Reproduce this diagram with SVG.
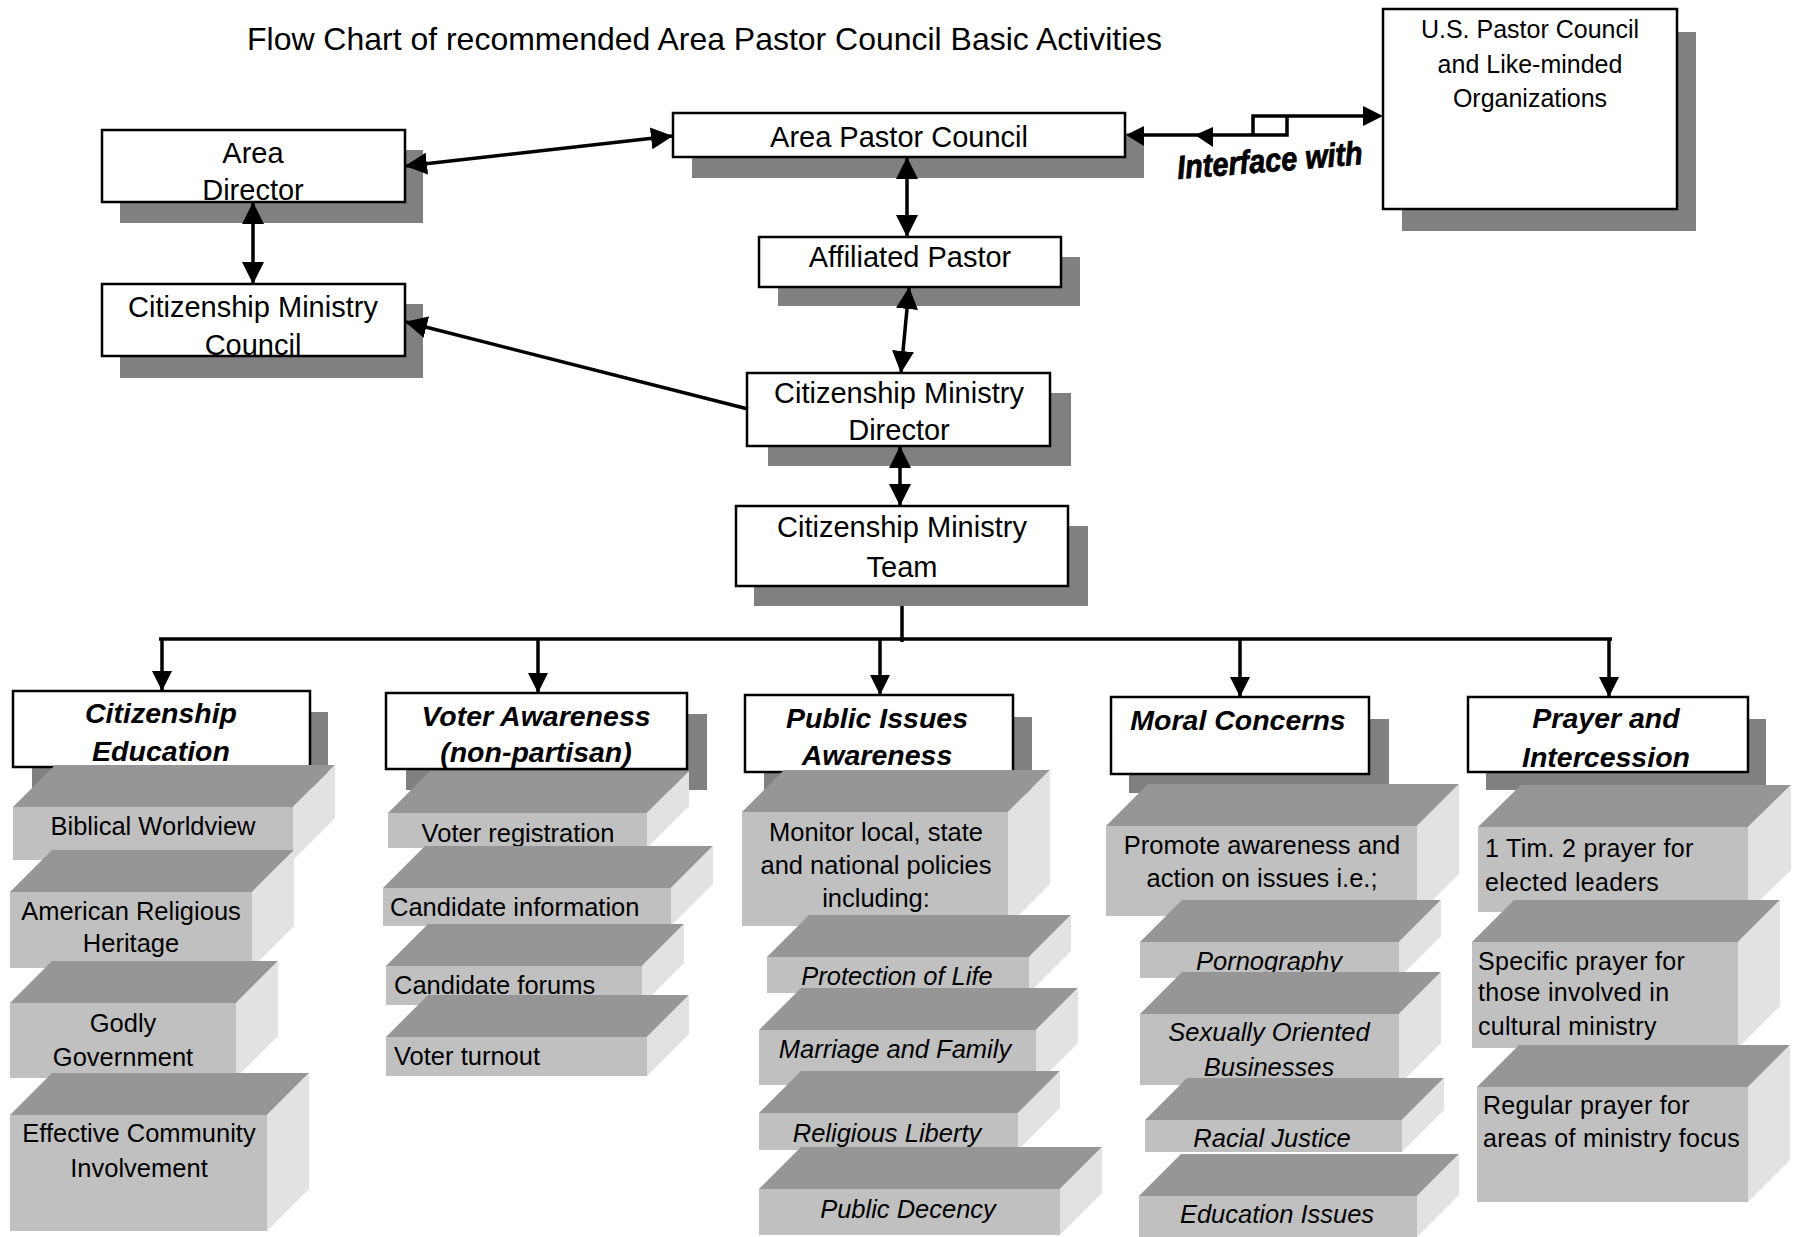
<svg xmlns="http://www.w3.org/2000/svg" width="1794" height="1237" viewBox="0 0 1794 1237">
<style>
text{font-family:"Liberation Sans",Arial,sans-serif;fill:#000}
.t{font-size:29px;text-anchor:middle}
.cat{font-size:28.5px;font-weight:bold;font-style:italic;text-anchor:middle}
.b{font-size:25.5px;text-anchor:middle}
.bs{font-size:25.5px;text-anchor:start}
.bi{font-size:25.5px;font-style:italic;text-anchor:middle}
.bl{font-size:25px;letter-spacing:0.3px}
.us{font-size:25px;text-anchor:middle}
.box{fill:#fff;stroke:#000;stroke-width:2.5}
.sh{fill:#808080}
.top{fill:#969696}
.front{fill:#c0c0c0}
.side{fill:#e2e2e2}
.ln{fill:none;stroke:#000;stroke-width:3.5}
</style>
<defs>
<marker id="ae" viewBox="0 0 22 22" refX="21" refY="11" markerWidth="22" markerHeight="22" orient="auto" markerUnits="userSpaceOnUse"><path d="M0,0 L22,11 L0,22 z"/></marker>
<marker id="as" viewBox="0 0 22 22" refX="1" refY="11" markerWidth="22" markerHeight="22" orient="auto" markerUnits="userSpaceOnUse"><path d="M22,0 L0,11 L22,22 z"/></marker>
<marker id="de" viewBox="0 0 20 20" refX="19" refY="10" markerWidth="20" markerHeight="20" orient="auto" markerUnits="userSpaceOnUse"><path d="M0,0 L20,10 L0,20 z"/></marker>
</defs>
<rect width="1794" height="1237" fill="#fff"/>
<text x="247" y="50" font-size="32" textLength="915" lengthAdjust="spacingAndGlyphs">Flow Chart of recommended Area Pastor Council Basic Activities</text>

<g id="us-pastor-council">
<rect class="sh" x="1402" y="32" width="294" height="199"/>
<rect class="box" x="1383" y="9" width="294" height="200"/>
<text class="us" x="1530" y="38">U.S. Pastor Council</text>
<text class="us" x="1530" y="73">and Like-minded</text>
<text class="us" x="1530" y="107">Organizations</text>
</g>
<g id="area-director">
<rect class="sh" x="120" y="150" width="303" height="73"/>
<rect class="box" x="102" y="130" width="303" height="72"/>
<text class="t" x="253" y="163">Area</text>
<text class="t" x="253" y="200">Director</text>
</g>
<g id="cm-council">
<rect class="sh" x="120" y="304" width="303" height="74"/>
<rect class="box" x="102" y="284" width="303" height="72"/>
<text class="t" x="253" y="317">Citizenship Ministry</text>
<text class="t" x="253" y="355">Council</text>
</g>
<g id="area-pastor-council">
<rect class="sh" x="692" y="133" width="452" height="45"/>
<rect class="box" x="673" y="113" width="452" height="44"/>
<text class="t" x="899" y="147">Area Pastor Council</text>
</g>
<g id="affiliated-pastor">
<rect class="sh" x="778" y="257" width="302" height="49"/>
<rect class="box" x="759" y="237" width="302" height="50"/>
<text class="t" x="910" y="267">Affiliated Pastor</text>
</g>
<g id="cm-director">
<rect class="sh" x="768" y="393" width="303" height="73"/>
<rect class="box" x="747" y="373" width="303" height="73"/>
<text class="t" x="899" y="403">Citizenship Ministry</text>
<text class="t" x="899" y="440">Director</text>
</g>
<g id="cm-team">
<rect class="sh" x="754" y="526" width="334" height="80"/>
<rect class="box" x="736" y="506" width="332" height="80"/>
<text class="t" x="902" y="537">Citizenship Ministry</text>
<text class="t" x="902" y="577">Team</text>
</g>

<g id="cat-citizenship-education">
<rect class="sh" x="32" y="712" width="296" height="76"/>
<rect class="box" x="13" y="691" width="297" height="76"/>
<text class="cat" x="161" y="723">Citizenship</text>
<text class="cat" x="161" y="761">Education</text>
</g>
<g id="cat-voter-awareness">
<rect class="sh" x="406" y="714" width="301" height="76"/>
<rect class="box" x="386" y="693" width="301" height="76"/>
<text class="cat" x="536" y="726">Voter Awareness</text>
<text class="cat" x="536" y="762">(non-partisan)</text>
</g>
<g id="cat-public-issues">
<rect class="sh" x="764" y="717" width="268" height="77"/>
<rect class="box" x="745" y="695" width="268" height="77"/>
<text class="cat" x="877" y="728">Public Issues</text>
<text class="cat" x="877" y="765">Awareness</text>
</g>
<g id="cat-moral-concerns">
<rect class="sh" x="1129" y="719" width="260" height="74"/>
<rect class="box" x="1111" y="697" width="258" height="77"/>
<text class="cat" x="1238" y="730">Moral Concerns</text>
</g>
<g id="cat-prayer">
<rect class="sh" x="1486" y="719" width="280" height="71"/>
<rect class="box" x="1468" y="697" width="280" height="75"/>
<text class="cat" x="1606" y="728">Prayer and</text>
<text class="cat" x="1606" y="767">Intercession</text>
</g>

<!-- Citizenship Education items -->
<g id="ce-1">
<polygon class="top" points="13,807 55,765 335,765 293,807"/>
<polygon class="side" points="293,807 335,765 335,818 293,860"/>
<rect class="front" x="13" y="807" width="280" height="53"/>
<text class="b" x="153" y="835">Biblical Worldview</text>
</g>
<g id="ce-2">
<polygon class="top" points="10,892 52,850 294,850 252,892"/>
<polygon class="side" points="252,892 294,850 294,926 252,968"/>
<rect class="front" x="10" y="892" width="242" height="76"/>
<text class="b" x="131" y="920">American Religious</text>
<text class="b" x="131" y="952">Heritage</text>
</g>
<g id="ce-3">
<polygon class="top" points="10,1003 52,961 278,961 236,1003"/>
<polygon class="side" points="236,1003 278,961 278,1036 236,1078"/>
<rect class="front" x="10" y="1003" width="226" height="75"/>
<text class="b" x="123" y="1032">Godly</text>
<text class="b" x="123" y="1066">Government</text>
</g>
<g id="ce-4">
<polygon class="top" points="10,1115 52,1073 309,1073 267,1115"/>
<polygon class="side" points="267,1115 309,1073 309,1189 267,1231"/>
<rect class="front" x="10" y="1115" width="257" height="116"/>
<text class="b" x="139" y="1142">Effective Community</text>
<text class="b" x="139" y="1177">Involvement</text>
</g>

<!-- Voter Awareness items -->
<g id="va-1">
<polygon class="top" points="388,813 430,771 689,771 647,813"/>
<polygon class="side" points="647,813 689,771 689,806 647,848"/>
<rect class="front" x="388" y="813" width="259" height="35"/>
<text class="b" x="518" y="842">Voter registration</text>
</g>
<g id="va-2">
<polygon class="top" points="383,888 425,846 713,846 671,888"/>
<polygon class="side" points="671,888 713,846 713,884 671,926"/>
<rect class="front" x="383" y="888" width="288" height="38"/>
<text class="bs" x="390" y="916">Candidate information</text>
</g>
<g id="va-3">
<polygon class="top" points="386,966 428,924 684,924 642,966"/>
<polygon class="side" points="642,966 684,924 684,963 642,1005"/>
<rect class="front" x="386" y="966" width="256" height="39"/>
<text class="bs" x="394" y="994">Candidate forums</text>
</g>
<g id="va-4">
<polygon class="top" points="386,1037 428,995 689,995 647,1037"/>
<polygon class="side" points="647,1037 689,995 689,1034 647,1076"/>
<rect class="front" x="386" y="1037" width="261" height="39"/>
<text class="bs" x="394" y="1065">Voter turnout</text>
</g>

<!-- Public Issues items -->
<g id="pi-1">
<polygon class="top" points="742,812 784,770 1050,770 1008,812"/>
<polygon class="side" points="1008,812 1050,770 1050,884 1008,926"/>
<rect class="front" x="742" y="812" width="266" height="114"/>
<text class="b" x="876" y="841">Monitor local, state</text>
<text class="b" x="876" y="874">and national policies</text>
<text class="b" x="876" y="907">including:</text>
</g>
<g id="pi-2">
<polygon class="top" points="767,957 809,915 1071,915 1029,957"/>
<polygon class="side" points="1029,957 1071,915 1071,951 1029,993"/>
<rect class="front" x="767" y="957" width="262" height="36"/>
<text class="bi" x="897" y="985">Protection of Life</text>
</g>
<g id="pi-3">
<polygon class="top" points="759,1030 801,988 1078,988 1036,1030"/>
<polygon class="side" points="1036,1030 1078,988 1078,1043 1036,1085"/>
<rect class="front" x="759" y="1030" width="277" height="55"/>
<text class="bi" x="895" y="1058">Marriage and Family</text>
</g>
<g id="pi-4">
<polygon class="top" points="759,1113 801,1071 1060,1071 1018,1113"/>
<polygon class="side" points="1018,1113 1060,1071 1060,1108 1018,1150"/>
<rect class="front" x="759" y="1113" width="259" height="37"/>
<text class="bi" x="887" y="1142">Religious Liberty</text>
</g>
<g id="pi-5">
<polygon class="top" points="759,1189 801,1147 1102,1147 1060,1189"/>
<polygon class="side" points="1060,1189 1102,1147 1102,1193 1060,1235"/>
<rect class="front" x="759" y="1189" width="301" height="46"/>
<text class="bi" x="908" y="1218">Public Decency</text>
</g>

<!-- Moral Concerns items -->
<g id="mc-1">
<polygon class="top" points="1106,826 1148,784 1459,784 1417,826"/>
<polygon class="side" points="1417,826 1459,784 1459,874 1417,916"/>
<rect class="front" x="1106" y="826" width="311" height="90"/>
<text class="b" x="1262" y="854">Promote awareness and</text>
<text class="b" x="1262" y="887">action on issues i.e.;</text>
</g>
<g id="mc-2">
<polygon class="top" points="1140,942 1182,900 1441,900 1399,942"/>
<polygon class="side" points="1399,942 1441,900 1441,936 1399,978"/>
<rect class="front" x="1140" y="942" width="259" height="36"/>
<text class="bi" x="1269" y="970">Pornography</text>
</g>
<g id="mc-3">
<polygon class="top" points="1140,1014 1182,972 1441,972 1399,1014"/>
<polygon class="side" points="1399,1014 1441,972 1441,1043 1399,1085"/>
<rect class="front" x="1140" y="1014" width="259" height="71"/>
<text class="bi" x="1269" y="1041">Sexually Oriented</text>
<text class="bi" x="1269" y="1076">Businesses</text>
</g>
<g id="mc-4">
<polygon class="top" points="1145,1120 1187,1078 1444,1078 1402,1120"/>
<polygon class="side" points="1402,1120 1444,1078 1444,1110 1402,1152"/>
<rect class="front" x="1145" y="1120" width="257" height="32"/>
<text class="bi" x="1272" y="1147">Racial Justice</text>
</g>
<g id="mc-5">
<polygon class="top" points="1139,1196 1181,1154 1459,1154 1417,1196"/>
<polygon class="side" points="1417,1196 1459,1154 1459,1195 1417,1237"/>
<rect class="front" x="1139" y="1196" width="278" height="41"/>
<text class="bi" x="1277" y="1223">Education Issues</text>
</g>

<!-- Prayer items -->
<g id="pr-1">
<polygon class="top" points="1478,827 1521,785 1791,785 1748,827"/>
<polygon class="side" points="1748,827 1791,785 1791,870 1748,912"/>
<rect class="front" x="1478" y="827" width="270" height="85"/>
<text class="bl" x="1485" y="857">1 Tim. 2 prayer for</text>
<text class="bl" x="1485" y="891">elected leaders</text>
</g>
<g id="pr-2">
<polygon class="top" points="1472,942 1514,900 1780,900 1738,942"/>
<polygon class="side" points="1738,942 1780,900 1780,1006 1738,1048"/>
<rect class="front" x="1472" y="942" width="266" height="106"/>
<text class="bl" x="1478" y="970">Specific prayer for</text>
<text class="bl" x="1478" y="1001">those involved in</text>
<text class="bl" x="1478" y="1035">cultural ministry</text>
</g>
<g id="pr-3">
<polygon class="top" points="1477,1087 1519,1045 1790,1045 1748,1087"/>
<polygon class="side" points="1748,1087 1790,1045 1790,1160 1748,1202"/>
<rect class="front" x="1477" y="1087" width="271" height="115"/>
<text class="bl" x="1483" y="1114">Regular prayer for</text>
<text class="bl" x="1483" y="1147">areas of ministry focus</text>
</g>

<g id="connectors">
<line class="ln" x1="406" y1="166" x2="672" y2="136" stroke-width="4" marker-start="url(#as)" marker-end="url(#ae)"/>
<line class="ln" x1="253" y1="203" x2="253" y2="283" marker-start="url(#as)" marker-end="url(#ae)"/>
<line class="ln" x1="907" y1="158" x2="907" y2="236" stroke-width="4" marker-start="url(#as)" marker-end="url(#ae)"/>
<line class="ln" x1="909" y1="288" x2="901" y2="372" marker-start="url(#as)" marker-end="url(#ae)"/>
<line class="ln" x1="748" y1="409" x2="406" y2="322" marker-end="url(#ae)"/>
<line class="ln" x1="900" y1="447" x2="900" y2="505" stroke-width="4" marker-start="url(#as)" marker-end="url(#ae)"/>
<!-- interface with -->
<path class="ln" d="M1143,135 H1287 V116" stroke-width="4.5"/>
<path class="ln" d="M1253,135 V116 H1366" stroke-width="4.5"/>
<polygon points="1126,135 1144,126 1144,146"/>
<polygon points="1195,135 1213,127 1213,147"/>
<polygon points="1383,116 1363,106 1363,126"/>
<text x="1178" y="179" font-size="33" font-weight="bold" font-style="italic" stroke="#000" stroke-width="0.8" textLength="186" lengthAdjust="spacingAndGlyphs" transform="rotate(-4.6 1178 179)">Interface with</text>
<!-- bus -->
<line class="ln" x1="902" y1="606" x2="902" y2="642" stroke-width="6"/>
<line class="ln" x1="159" y1="639" x2="1612" y2="639" stroke-width="6"/>
<line class="ln" x1="162" y1="639" x2="162" y2="690" stroke-width="3" marker-end="url(#de)"/>
<line class="ln" x1="538" y1="639" x2="538" y2="692" stroke-width="4.5" marker-end="url(#de)"/>
<line class="ln" x1="880" y1="639" x2="880" y2="694" stroke-width="5" marker-end="url(#de)"/>
<line class="ln" x1="1240" y1="639" x2="1240" y2="696" stroke-width="3" marker-end="url(#de)"/>
<line class="ln" x1="1609" y1="639" x2="1609" y2="696" stroke-width="3" marker-end="url(#de)"/>
</g>
</svg>
